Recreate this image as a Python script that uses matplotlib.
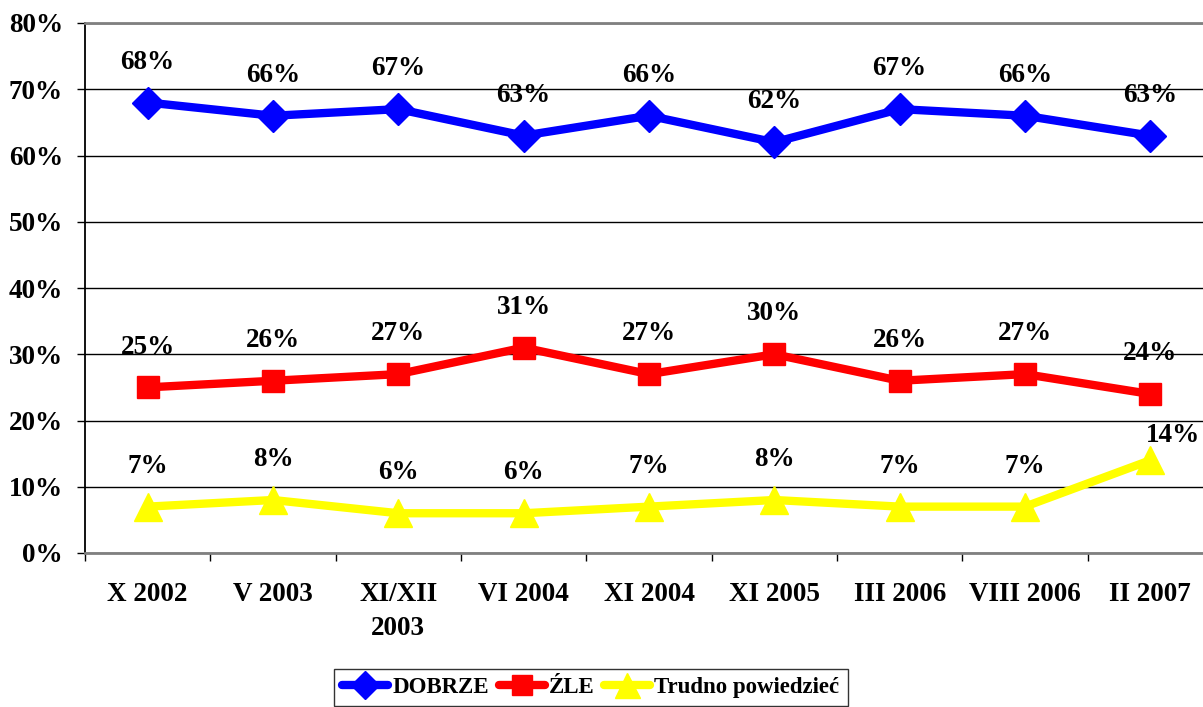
import matplotlib
matplotlib.use("Agg")
import matplotlib.pyplot as plt
import numpy as np

categories = ["X 2002", "V 2003", "XI/XII\n2003", "VI 2004", "XI 2004", "XI 2005", "III 2006", "VIII 2006", "II 2007"]
dobrze = [68, 66, 67, 63, 66, 62, 67, 66, 63]
zle = [25, 26, 27, 31, 27, 30, 26, 27, 24]
trudno = [7, 8, 6, 6, 7, 8, 7, 7, 14]
series_names = ["DOBRZE", "ŹLE", "Trudno powiedzieć"]
yticks = [0, 10, 20, 30, 40, 50, 60, 70, 80]

plt.rcParams['font.family'] = ['Liberation Serif', 'DejaVu Serif']
plt.rcParams['font.weight'] = 'bold'

fig = plt.figure(figsize=(12.03, 7.07), dpi=100)
ax = fig.add_axes([85/1203, 154/707, 1128/1203, 530/707])

x = np.arange(len(categories))
ax.plot(x, dobrze, color='#0000FF', lw=6, marker='D', ms=16, mec='#0000FF', label=series_names[0], solid_capstyle='round')
ax.plot(x, zle, color='#FF0000', lw=6, marker='s', ms=16, mec='#FF0000', label=series_names[1], solid_capstyle='round')
ax.plot(x, trudno, color='#FFFF00', lw=6, marker='^', ms=20, mec='#FFFF00', label=series_names[2], solid_capstyle='round')

fs = 19.5
for series in (dobrze, zle, trudno):
    for i, v in enumerate(series):
        dx, dy = 0, 29
        if series is trudno and i == len(series) - 1:
            dx, dy = 16, 18
        ax.annotate(f"{v}%", (i, v), xytext=(dx, dy), textcoords='offset points',
                    ha='center', va='center', fontsize=fs, fontweight='bold')

ax.set_xlim(-0.5, len(categories) - 0.5)
ax.set_ylim(0, 80)
ax.set_yticks(yticks)
ax.set_yticklabels([f"{v}%" for v in yticks], fontsize=fs, fontweight='bold')
ax.yaxis.grid(True, color='black', lw=1)
ax.set_axisbelow(True)

ax.set_xticks(np.arange(-0.5, len(categories)), minor=False)
ax.set_xticklabels([])
ax.set_xticks(x, minor=True)
ax.set_xticklabels(categories, minor=True, fontsize=fs, fontweight='bold', linespacing=1.45, va='top')
ax.tick_params(axis='x', which='major', length=6, width=1, color='black', direction='out')
ax.tick_params(axis='x', which='minor', length=0, pad=21)
ax.tick_params(axis='y', length=6, width=1, color='black', direction='out', pad=10)

for s in ('top', 'bottom'):
    ax.spines[s].set_color('#808080')
    ax.spines[s].set_linewidth(2)
ax.spines['left'].set_color('black')
ax.spines['left'].set_linewidth(1.3)
ax.spines['right'].set_visible(False)

leg = fig.legend(loc='upper center', bbox_to_anchor=(591/1203, 1 - 669/707), ncol=3,
                 frameon=True, fancybox=False, edgecolor='black',
                 handlelength=2.0, handletextpad=0.2, columnspacing=0.4, borderpad=0.35,
                 borderaxespad=0, prop={'weight': 'bold', 'size': 16.5}, markerscale=0.9)
leg.get_frame().set_linewidth(1)

fig.savefig("out.png", dpi=100, facecolor='white')
